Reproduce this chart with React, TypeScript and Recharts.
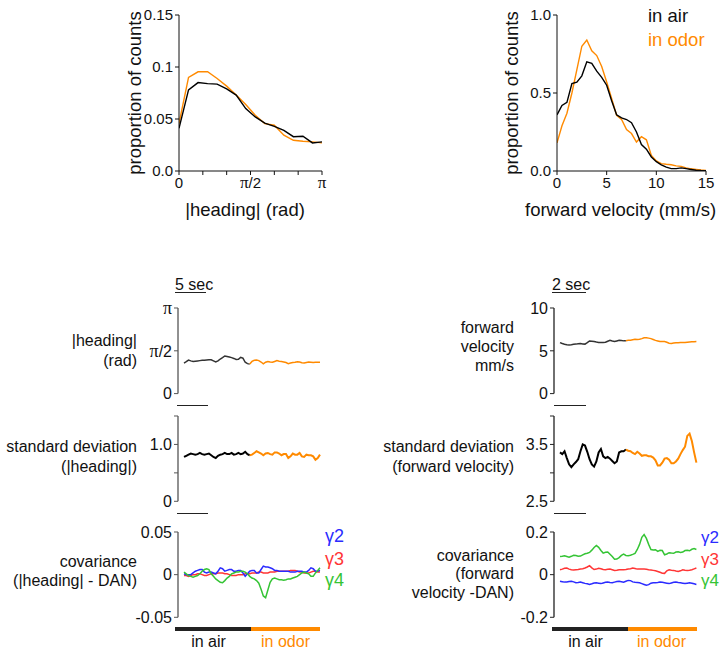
import React from "react";
import { LineChart, Line, XAxis, YAxis } from "recharts";

const PI = Math.PI;
const ORANGE = "#ff8a00";
const FONT = "'Liberation Sans', Arial, sans-serif";

// ---- top: histograms ----
// |heading| bins, 0..pi in 15 steps
const HEAD_HIST_AIR = [0.041, 0.078, 0.085, 0.084, 0.0835, 0.079, 0.073, 0.06, 0.052, 0.046, 0.043, 0.039, 0.033, 0.0334, 0.027, 0.028];
const HEAD_HIST_ODOR = [0.0456, 0.09, 0.0954, 0.0954, 0.089, 0.0816, 0.073, 0.064, 0.0536, 0.0456, 0.044, 0.0344, 0.0295, 0.0286, 0.028, 0.027];
const HEAD_X_TICKS = [0, PI / 6, PI / 3, PI / 2, (2 * PI) / 3, (5 * PI) / 6, PI];
const HEAD_X_LABELS = ["0", "", "", "π/2", "", "", "π"];
const HEAD_Y_TICKS = [0, 0.05, 0.1, 0.15];
const HEAD_Y_LABELS = ["0.0", "0.05", "0.1", "0.15"];

// forward velocity bins, 0..15 mm/s step 0.5
const VEL_HIST_AIR = [0.36, 0.42, 0.44, 0.56, 0.57, 0.61, 0.7, 0.69, 0.64, 0.6, 0.55, 0.45, 0.36, 0.34, 0.33, 0.31, 0.25, 0.17, 0.14, 0.09, 0.06, 0.04, 0.025, 0.015, 0.015, 0.02, 0.015, 0.01, 0.005, 0.003, 0.002];
const VEL_HIST_ODOR = [0.18, 0.29, 0.37, 0.5, 0.65, 0.8, 0.84, 0.77, 0.74, 0.67, 0.57, 0.465, 0.357, 0.33, 0.265, 0.24, 0.186, 0.22, 0.2, 0.1, 0.065, 0.047, 0.043, 0.04, 0.033, 0.03, 0.02, 0.014, 0.01, 0.006, 0.004];
const VEL_X_TICKS = [0, 5, 10, 15];
const VEL_X_LABELS = ["0", "5", "10", "15"];
const VEL_Y_TICKS = [0, 0.5, 1];
const VEL_Y_LABELS = ["0.0", "0.5", "1.0"];

// ---- bottom: traces, 61 samples, air = 0..29, odor = 29..60 ----
const AIR_END = 29;

const HEADING_TRACE = [1.12, 1.17, 1.23, 1.2, 1.18, 1.19, 1.2, 1.21, 1.22, 1.22, 1.23, 1.24, 1.24, 1.2, 1.16, 1.2, 1.27, 1.32, 1.38, 1.36, 1.34, 1.32, 1.29, 1.25, 1.26, 1.33, 1.3, 1.15, 1.1, 1.09, 1.18, 1.22, 1.23, 1.21, 1.16, 1.09, 1.15, 1.18, 1.16, 1.15, 1.18, 1.21, 1.19, 1.18, 1.16, 1.14, 1.1, 1.12, 1.14, 1.15, 1.17, 1.16, 1.13, 1.12, 1.14, 1.16, 1.15, 1.14, 1.15, 1.15, 1.15];
const HEADING_STD = [0.78, 0.8, 0.82, 0.84, 0.83, 0.82, 0.83, 0.85, 0.83, 0.82, 0.83, 0.84, 0.81, 0.78, 0.76, 0.8, 0.82, 0.83, 0.85, 0.83, 0.83, 0.85, 0.82, 0.83, 0.85, 0.83, 0.84, 0.87, 0.83, 0.81, 0.82, 0.85, 0.88, 0.86, 0.84, 0.81, 0.84, 0.85, 0.83, 0.82, 0.86, 0.86, 0.84, 0.81, 0.83, 0.83, 0.76, 0.79, 0.84, 0.82, 0.82, 0.85, 0.79, 0.78, 0.82, 0.81, 0.81, 0.79, 0.73, 0.76, 0.82];
const HEAD_COV_G2 = [0.001, 0, 0, 0, 0.002, 0.004, 0.005, 0.006, 0.006, 0.003, 0.002, 0.003, 0.003, 0.002, 0.001, 0.004, 0.008, 0.007, 0.004, 0.005, 0.006, 0.006, 0.004, 0.004, 0.005, 0.005, 0.002, -0.002, 0.001, 0.004, 0.005, 0.005, 0.002, 0.002, 0.006, 0.01, 0.009, 0.009, 0.008, 0.007, 0.005, 0.005, 0.004, 0.004, 0.004, 0.004, 0.004, 0.003, 0.003, 0.003, 0.004, 0.004, 0.004, 0.003, 0.003, 0.005, 0.008, 0.007, 0.004, 0.004, 0.005];
const HEAD_COV_G3 = [-0.001, -0.001, -0.002, -0.001, 0, 0, 0.001, 0.001, 0, -0.001, -0.001, 0, 0.001, 0.001, 0.001, 0.002, 0.002, 0.002, 0.001, 0.001, 0, -0.001, -0.001, -0.001, 0, 0, 0, 0.001, 0.001, 0.001, 0.002, 0.002, 0.002, 0.003, 0.003, 0.002, 0.002, 0.002, 0.003, 0.003, 0.003, 0.004, 0.004, 0.004, 0.004, 0.004, 0.004, 0.005, 0.005, 0.005, 0.004, 0.003, 0.003, 0.002, 0.002, 0.002, 0.003, 0.004, 0.004, 0.003, 0.003];
const HEAD_COV_G4 = [0.003, 0.001, -0.001, -0.002, -0.003, -0.002, -0.001, 0.001, 0.004, 0.006, 0.007, 0.006, 0.001, -0.002, -0.005, -0.007, -0.009, -0.0095, -0.007, -0.004, -0.002, 0.001, 0.002, 0.003, 0.003, 0.004, 0.004, 0.003, 0.001, -0.002, -0.004, -0.005, -0.007, -0.01, -0.017, -0.025, -0.027, -0.018, -0.009, -0.005, -0.004, -0.005, -0.006, -0.006, -0.0065, -0.006, -0.005, -0.005, -0.004, -0.003, -0.002, 0, 0.002, 0.003, 0.002, 0.001, -0.002, -0.002, 0.002, 0.005, 0.008];

const VEL_TRACE = [5.96, 5.85, 5.77, 5.72, 5.69, 5.72, 5.76, 5.78, 5.83, 5.85, 5.8, 5.78, 5.95, 6.15, 6.12, 6.08, 6.02, 5.98, 5.96, 5.96, 6.0, 6.12, 6.23, 6.15, 6.08, 6.15, 6.22, 6.2, 6.16, 6.18, 6.22, 6.23, 6.3, 6.35, 6.33, 6.35, 6.42, 6.52, 6.52, 6.48, 6.42, 6.32, 6.22, 6.15, 6.08, 6.08, 6.08, 6.0, 5.88, 5.85, 5.9, 5.93, 5.94, 5.96, 5.96, 5.96, 6.0, 6.03, 6.05, 6.06, 6.08];
const VEL_STD = [3.36, 3.33, 3.38, 3.26, 3.15, 3.1, 3.15, 3.19, 3.24, 3.38, 3.5, 3.48, 3.37, 3.24, 3.15, 3.11, 3.2, 3.36, 3.42, 3.29, 3.26, 3.28, 3.25, 3.21, 3.17, 3.2, 3.36, 3.38, 3.38, 3.41, 3.39, 3.38, 3.35, 3.33, 3.37, 3.34, 3.3, 3.31, 3.31, 3.29, 3.29, 3.27, 3.22, 3.13, 3.13, 3.18, 3.25, 3.26, 3.23, 3.17, 3.17, 3.2, 3.25, 3.33, 3.4, 3.46, 3.65, 3.69, 3.56, 3.36, 3.18];
const VEL_COV_G2 = [-0.031, -0.033, -0.035, -0.034, -0.032, -0.031, -0.034, -0.038, -0.037, -0.035, -0.038, -0.041, -0.043, -0.046, -0.043, -0.039, -0.038, -0.04, -0.042, -0.039, -0.036, -0.035, -0.037, -0.038, -0.035, -0.032, -0.031, -0.033, -0.035, -0.031, -0.027, -0.028, -0.034, -0.036, -0.037, -0.038, -0.042, -0.046, -0.05, -0.047, -0.04, -0.038, -0.038, -0.037, -0.035, -0.036, -0.038, -0.04, -0.042, -0.039, -0.036, -0.035, -0.037, -0.038, -0.04, -0.042, -0.04, -0.038, -0.04, -0.043, -0.046];
const VEL_COV_G3 = [0.023, 0.026, 0.03, 0.031, 0.026, 0.023, 0.022, 0.023, 0.024, 0.026, 0.028, 0.031, 0.036, 0.042, 0.032, 0.024, 0.026, 0.03, 0.028, 0.024, 0.023, 0.025, 0.026, 0.023, 0.02, 0.021, 0.023, 0.023, 0.023, 0.024, 0.026, 0.028, 0.031, 0.029, 0.026, 0.026, 0.026, 0.026, 0.025, 0.023, 0.022, 0.02, 0.018, 0.015, 0.011, 0.007, 0.006, 0.018, 0.023, 0.021, 0.02, 0.017, 0.015, 0.018, 0.023, 0.021, 0.02, 0.021, 0.023, 0.027, 0.031];
const VEL_COV_G4 = [0.085, 0.086, 0.088, 0.085, 0.082, 0.086, 0.091, 0.09, 0.086, 0.087, 0.093, 0.098, 0.1, 0.104, 0.115, 0.127, 0.137, 0.128, 0.113, 0.101, 0.105, 0.106, 0.096, 0.085, 0.072, 0.073, 0.08, 0.09, 0.096, 0.09, 0.089, 0.091, 0.095, 0.1, 0.118, 0.142, 0.175, 0.188, 0.17, 0.142, 0.118, 0.116, 0.117, 0.109, 0.114, 0.113, 0.093, 0.097, 0.103, 0.101, 0.1, 0.106, 0.107, 0.104, 0.106, 0.113, 0.114, 0.112, 0.119, 0.122, 0.118];

const G2 = "#2b2bff";
const G3 = "#ff3535";
const G4 = "#35c435";

function splitRows(values: number[]) {
  return values.map((v, i) => ({
    t: i,
    air: i <= AIR_END ? v : null,
    odor: i >= AIR_END ? v : null,
  }));
}

function covRows(a: number[], b: number[], c: number[]) {
  return a.map((v, i) => ({ t: i, g2: v, g3: b[i], g4: c[i] }));
}

function labelOf(value: number, ticks: number[], labels: string[]) {
  const i = ticks.findIndex((t) => Math.abs(t - value) < 1e-6);
  return i >= 0 ? labels[i] : "";
}

function TickText({ x, y, text, anchor, dy, size }: any) {
  if (!text) return <g />;
  const piFirst = text.startsWith("π");
  return (
    <text x={x} y={y} dy={dy} textAnchor={anchor} fill="#111" style={{ fontFamily: FONT, fontSize: size }}>
      {piFirst ? (
        <>
          <tspan style={{ fontFamily: "'Liberation Serif', serif", fontSize: size + 2 }}>π</tspan>
          <tspan>{text.slice(1)}</tspan>
        </>
      ) : (
        text
      )}
    </text>
  );
}

const yTick = (ticks: number[], labels: string[], size: number) => (p: any) =>
  <TickText x={p.x} y={p.y} dy="0.36em" anchor="end" size={size} text={labelOf(p.payload.value, ticks, labels)} />;

const xTick = (ticks: number[], labels: string[], size: number) => (p: any) =>
  <TickText x={p.x} y={p.y} dy="0.71em" anchor="middle" size={size} text={labelOf(p.payload.value, ticks, labels)} />;

function HistPanel({ axisX, plotRight, top, bottom, data, xDomain, xTicks, xLabels, yDomain, yTicks, yLabels }: any) {
  const YW = 60;
  const m = { top: 10, right: 720 - plotRight > 20 ? 20 : 720 - plotRight - 2, bottom: 5, left: 0 };
  const w = YW + (plotRight - axisX) + m.right;
  const h = bottom - top + m.top + 30 + m.bottom;
  return (
    <div style={{ position: "absolute", left: axisX - YW, top: top - m.top }}>
      <LineChart width={w} height={h} data={data} margin={m}>
        <XAxis type="number" dataKey="x" domain={xDomain} ticks={xTicks} interval={0} height={30} tickSize={4}
          axisLine={{ stroke: "#111" }} tickLine={{ stroke: "#111" }} tick={xTick(xTicks, xLabels, 15)} allowDataOverflow />
        <YAxis type="number" domain={yDomain} ticks={yTicks} interval={0} width={YW} tickSize={4}
          axisLine={{ stroke: "#111" }} tickLine={{ stroke: "#111" }} tick={yTick(yTicks, yLabels, 15)} allowDataOverflow />
        <Line type="linear" dataKey="odor" stroke={ORANGE} strokeWidth={1.4} dot={false} isAnimationActive={false} />
        <Line type="linear" dataKey="air" stroke="#000" strokeWidth={1.4} dot={false} isAnimationActive={false} />
      </LineChart>
    </div>
  );
}

function TracePanel({ axisX, plotRight, top, bottom, data, yDomain, yTicks, yLabels, axisColor, series }: any) {
  const YW = 60;
  const m = { top: 10, right: 10, bottom: 10, left: 0 };
  const w = YW + (plotRight - axisX) + m.right;
  const h = bottom - top + m.top + m.bottom;
  return (
    <div style={{ position: "absolute", left: axisX - YW, top: top - m.top }}>
      <LineChart width={w} height={h} data={data} margin={m}>
        <XAxis type="number" dataKey="t" domain={[0, 60]} hide padding={{ left: 6, right: 0 }} />
        <YAxis type="number" domain={yDomain} ticks={yTicks} interval={0} width={YW} tickSize={4}
          axisLine={{ stroke: axisColor, strokeWidth: 1.3 }} tickLine={{ stroke: axisColor }}
          tick={yTick(yTicks, yLabels, 16)} allowDataOverflow />
        {series.map((s: any) => (
          <Line key={s.key} type="linear" dataKey={s.key} stroke={s.color} strokeWidth={s.width}
            dot={false} isAnimationActive={false} />
        ))}
      </LineChart>
    </div>
  );
}

const txt = (style: React.CSSProperties): React.CSSProperties => ({
  position: "absolute",
  fontFamily: FONT,
  color: "#111",
  whiteSpace: "nowrap",
  ...style,
});

const bar = (left: number, top: number, width: number, height: number, color: string): React.CSSProperties => ({
  position: "absolute", left, top, width, height, background: color,
});

export default function App() {
  const headHist = HEAD_HIST_AIR.map((v, i) => ({ x: (i * PI) / 15, air: v, odor: HEAD_HIST_ODOR[i] }));
  const velHist = VEL_HIST_AIR.map((v, i) => ({ x: i * 0.5, air: v, odor: VEL_HIST_ODOR[i] }));
  const airOdor = (w: number, c: string) => [
    { key: "air", color: c, width: w },
    { key: "odor", color: ORANGE, width: w },
  ];
  const gammas = [
    { key: "g3", color: G3, width: 1.5 },
    { key: "g2", color: G2, width: 1.5 },
    { key: "g4", color: G4, width: 1.5 },
  ];

  return (
    <div style={{ position: "absolute", left: 0, top: 0, width: 720, height: 654, background: "#fff", overflow: "hidden" }}>
      {/* top row */}
      <HistPanel axisX={179} plotRight={322} top={15} bottom={171} data={headHist}
        xDomain={[0, PI]} xTicks={HEAD_X_TICKS} xLabels={HEAD_X_LABELS}
        yDomain={[0, 0.15]} yTicks={HEAD_Y_TICKS} yLabels={HEAD_Y_LABELS} />
      <HistPanel axisX={557} plotRight={706} top={15} bottom={171} data={velHist}
        xDomain={[0, 15]} xTicks={VEL_X_TICKS} xLabels={VEL_X_LABELS}
        yDomain={[0, 1]} yTicks={VEL_Y_TICKS} yLabels={VEL_Y_LABELS} />
      <div style={txt({ left: 135, top: 93, fontSize: 18.5, transform: "translate(-50%, -50%) rotate(-90deg)" })}>proportion of counts</div>
      <div style={txt({ left: 512, top: 93, fontSize: 18.5, transform: "translate(-50%, -50%) rotate(-90deg)" })}>proportion of counts</div>
      <div style={txt({ left: 245, top: 199, fontSize: 18.5, lineHeight: "22px", transform: "translateX(-50%)" })}>|heading| (rad)</div>
      <div style={txt({ left: 525, top: 199, fontSize: 18.5, lineHeight: "22px" })}>forward velocity (mm/s)</div>
      <div style={txt({ left: 648, top: 5, fontSize: 18.5, lineHeight: "22px" })}>in air</div>
      <div style={txt({ left: 648, top: 29, fontSize: 18.5, lineHeight: "22px", color: ORANGE })}>in odor</div>

      {/* bottom left */}
      <div style={txt({ left: 175, top: 276, fontSize: 16, lineHeight: "18px" })}>5 sec</div>
      <div style={bar(175, 292, 31, 1.3, "#222")} />
      <TracePanel axisX={178} plotRight={320} top={307.7} bottom={393.3} data={splitRows(HEADING_TRACE)}
        yDomain={[0, PI]} yTicks={[0, PI / 2, PI]} yLabels={["0", "π/2", "π"]} axisColor="#555"
        series={airOdor(1.5, "#333")} />
      <div style={bar(177, 404.5, 31, 1.3, "#222")} />
      <TracePanel axisX={178} plotRight={320} top={415.7} bottom={501} data={splitRows(HEADING_STD)}
        yDomain={[0, 1.5]} yTicks={[0, 0.5, 1, 1.5]} yLabels={["0", "", "1.0", ""]} axisColor="#555"
        series={airOdor(2, "#000")} />
      <div style={bar(177, 512.5, 31, 1.3, "#222")} />
      <TracePanel axisX={178} plotRight={320} top={531.7} bottom={617} data={covRows(HEAD_COV_G2, HEAD_COV_G3, HEAD_COV_G4)}
        yDomain={[-0.05, 0.05]} yTicks={[-0.05, 0, 0.05]} yLabels={["-0.05", "0", "0.05"]} axisColor="#555"
        series={gammas} />
      <div style={bar(175, 626.5, 76, 4.5, "#222")} />
      <div style={bar(251, 626.5, 69, 4.5, ORANGE)} />
      <div style={txt({ left: 208.5, top: 632.5, fontSize: 16, lineHeight: "18px", transform: "translateX(-50%)" })}>in air</div>
      <div style={txt({ left: 285.5, top: 632.5, fontSize: 16, lineHeight: "18px", transform: "translateX(-50%)", color: ORANGE })}>in odor</div>

      <div style={txt({ right: 583, top: 331, fontSize: 16, lineHeight: "20px", textAlign: "right" })}>|heading|<br />(rad)</div>
      <div style={txt({ right: 583, top: 437, fontSize: 16, lineHeight: "20px", textAlign: "right" })}>standard deviation<br />(|heading|)</div>
      <div style={txt({ right: 583, top: 552, fontSize: 16, lineHeight: "19px", textAlign: "right" })}>covariance<br />(|heading| - DAN)</div>
      <div style={txt({ left: 325, top: 526, fontSize: 18, lineHeight: "21px", color: G2 })}>γ2</div>
      <div style={txt({ left: 325, top: 548.5, fontSize: 18, lineHeight: "21px", color: G3 })}>γ3</div>
      <div style={txt({ left: 325, top: 569.5, fontSize: 18, lineHeight: "21px", color: G4 })}>γ4</div>

      {/* bottom right */}
      <div style={txt({ left: 552, top: 276, fontSize: 16, lineHeight: "18px" })}>2 sec</div>
      <div style={bar(552, 292, 34, 1.3, "#222")} />
      <TracePanel axisX={554.3} plotRight={696.7} top={307.7} bottom={393.3} data={splitRows(VEL_TRACE)}
        yDomain={[0, 10]} yTicks={[0, 5, 10]} yLabels={["0", "5", "10"]} axisColor="#222"
        series={airOdor(1.5, "#333")} />
      <div style={bar(554, 404.5, 32, 1.3, "#222")} />
      <TracePanel axisX={554.3} plotRight={696.7} top={415.7} bottom={501} data={splitRows(VEL_STD)}
        yDomain={[2.5, 4]} yTicks={[2.5, 3, 3.5, 4]} yLabels={["2.5", "", "3.5", ""]} axisColor="#222"
        series={airOdor(2, "#000")} />
      <div style={bar(554, 512.5, 32, 1.3, "#222")} />
      <TracePanel axisX={554.3} plotRight={696.7} top={531.7} bottom={617} data={covRows(VEL_COV_G2, VEL_COV_G3, VEL_COV_G4)}
        yDomain={[-0.2, 0.2]} yTicks={[-0.2, 0, 0.2]} yLabels={["-0.2", "0", "0.2"]} axisColor="#222"
        series={gammas} />
      <div style={bar(552, 626.5, 76, 4.5, "#222")} />
      <div style={bar(628, 626.5, 69, 4.5, ORANGE)} />
      <div style={txt({ left: 585.5, top: 632.5, fontSize: 16, lineHeight: "18px", transform: "translateX(-50%)" })}>in air</div>
      <div style={txt({ left: 661.5, top: 632.5, fontSize: 16, lineHeight: "18px", transform: "translateX(-50%)", color: ORANGE })}>in odor</div>

      <div style={txt({ right: 206, top: 317.5, fontSize: 16, lineHeight: "19px", textAlign: "right" })}>forward<br />velocity<br />mm/s</div>
      <div style={txt({ right: 206, top: 437, fontSize: 16, lineHeight: "20px", textAlign: "right" })}>standard deviation<br />(forward velocity)</div>
      <div style={txt({ right: 206, top: 546.5, fontSize: 16, lineHeight: "18.5px", textAlign: "right" })}>covariance<br />(forward<br />velocity -DAN)</div>
      <div style={txt({ left: 701, top: 526.5, fontSize: 17, lineHeight: "21px", color: G2 })}>γ2</div>
      <div style={txt({ left: 701, top: 549, fontSize: 17, lineHeight: "21px", color: G3 })}>γ3</div>
      <div style={txt({ left: 701, top: 570, fontSize: 17, lineHeight: "21px", color: G4 })}>γ4</div>
    </div>
  );
}
